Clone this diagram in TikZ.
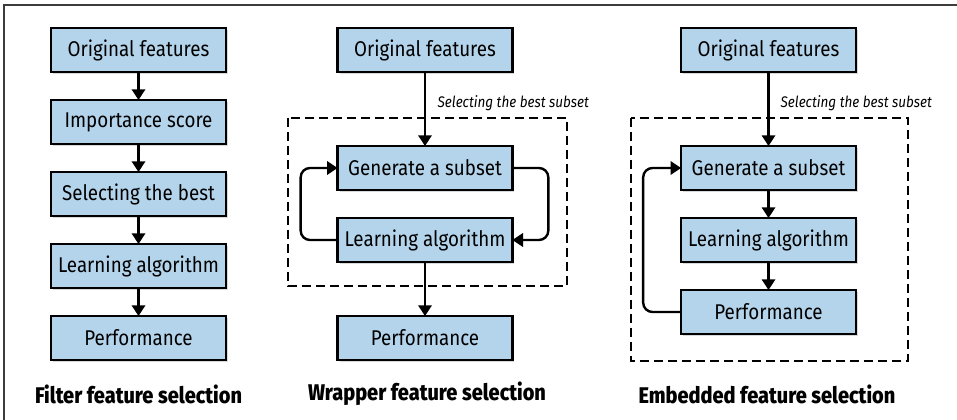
\documentclass[tikz,border=0pt]{standalone}
\usepackage{fontspec}
\setmainfont{Fira Sans}[BoldFont={Fira Sans ExtraBold}, FakeStretch=0.88]
\usepackage{tikz}
\usetikzlibrary{arrows.meta, positioning, shadows}
\definecolor{boxblue}{RGB}{179,212,234}
\definecolor{framegray}{RGB}{60,60,60}

\begin{document}
\begin{tikzpicture}[x=0.75pt, y=-0.75pt]

% TikZ styles
\tikzset{
  stage/.style={rectangle, draw=black, fill=boxblue, line width=1.8pt, outer sep=0pt, minimum width=131pt, minimum height=33pt, inner sep=0pt, font=\fontsize{16}{19}\selectfont, drop shadow={shadow xshift=1.5pt, shadow yshift=-1.5pt, opacity=0.3}},
  arrow/.style={-{Triangle[length=8pt, width=10pt]}, line width=1.8pt},
  backarrow/.style={arrow, rounded corners=7pt},
  dashbox/.style={dash pattern=on 6.5pt off 4pt, line width=1.7pt},
  caption/.style={font=\fontsize{17}{20}\selectfont\bfseries},
  note/.style={font=\fontsize{11.5}{14}\selectfont\itshape, anchor=west}
}

\useasboundingbox (0,0) rectangle (957,420);
\draw[framegray, line width=1.2pt] (4,420) -- (4,5) -- (957,5);

%==========================
% Filter
%==========================
\node[stage] (forig) at (138.5,50) {Original features};
\node[stage, below=21pt of forig] (fscore) {Importance score};
\node[stage, below=21pt of fscore] (fbest) {Selecting the best};
\node[stage, below=21pt of fbest] (flearn) {Learning algorithm};
\node[stage, below=21pt of flearn] (fperf) {Performance};
\node[caption] (fcap) at (138.5,394) {Filter feature selection};

\draw[arrow] (forig) -- (fscore);
\draw[arrow] (fscore) -- (fbest);
\draw[arrow] (fbest) -- (flearn);
\draw[arrow] (flearn) -- (fperf);

%==========================
% Wrapper
%==========================
\node[stage] (worig) at (425,50) {Original features};
\node[stage, below=55.5pt of worig] (wgen) {Generate a subset};
\node[stage, below=21pt of wgen] (wlearn) {Learning algorithm};
\node[stage, below=40.5pt of wlearn] (wperf) {Performance};
\node[note] (wnote) at (433,103) {Selecting the best subset};
\node[caption] (wcap) at (427,394) {Wrapper feature selection};
\draw[dashbox] (288,118) rectangle (567,286);

\draw[arrow] (worig) -- (wgen);
\draw[arrow] (wlearn) -- (wperf);
\draw[backarrow] (wlearn.west) -- ++(-37,0) |- (wgen.west);
\draw[backarrow] (wgen.east) -- ++(36,0) |- (wlearn.east);

%==========================
% Embedded
%==========================
\node[stage] (eorig) at (768.5,50) {Original features};
\node[stage, below=55.5pt of eorig] (egen) {Generate a subset};
\node[stage, below=21pt of egen] (elearn) {Learning algorithm};
\node[stage, below=21pt of elearn] (eperf) {Performance};
\node[note] (enote) at (776,103) {Selecting the best subset};
\node[caption] (ecap) at (767,394) {Embedded feature selection};
\draw[dashbox] (631,118) rectangle (908,361);

\draw[arrow] (eorig) -- (egen);
\draw[arrow] (egen) -- (elearn);
\draw[arrow] (elearn) -- (eperf);
\draw[backarrow] (eperf.west) -- ++(-38,0) |- (egen.west);
\end{tikzpicture}
\end{document}
